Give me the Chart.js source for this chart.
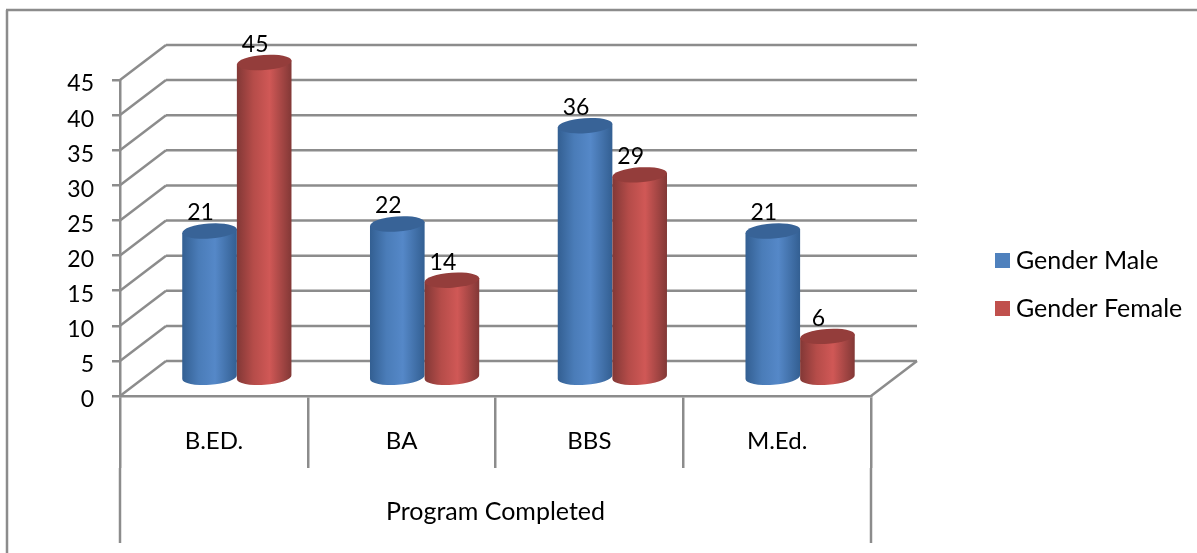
<!DOCTYPE html>
<html lang="en">
<head>
    <meta charset="UTF-8">
    <title>Program Completed</title>
    <script src="https://cdn.jsdelivr.net/npm/chart.js"></script>
    <style>
        body { margin: 0; background: white; }
        #box { width: 1197px; height: 553px; }
    </style>
</head>
<body>
    <div id="box"><canvas id="myChart"></canvas></div>

    <script>
        const categories = ['B.ED.', 'BA', 'BBS', 'M.Ed.'];
        const maleValues = [21, 22, 36, 21];
        const femaleValues = [45, 14, 29, 6];
        const yTicks = [0, 5, 10, 15, 20, 25, 30, 35, 40, 45];
        const seriesNames = ['Gender Male', 'Gender Female'];
        const axisTitle = 'Program Completed';

        const fontName = 'Lato, "Open Sans", sans-serif';
        const numberSize = 23;
        const labelSize = 24;
        const textSize = 25;
        const lineColor = '#8c8c8c';
        const lineWidth = 2.5;
        const depthX = 46;
        const depthY = 35;

        // colours of the two cylinders: edge, middle, light stripe, top
        const shades = [
            { swatch: '#4f81bd', edge: '#335f92', mid: '#4a7cb8', light: '#5588c8', top: '#386397' },
            { swatch: '#c0504d', edge: '#823836', mid: '#b54c49', light: '#d05856', top: '#943d3b' }
        ];

        function line(ctx, x1, y1, x2, y2) {
            ctx.beginPath();
            ctx.moveTo(x1, y1);
            ctx.lineTo(x2, y2);
            ctx.stroke();
        }

        // outer frame, 3D wall and the lower level of the category axis
        const wallPlugin = {
            id: 'wall',
            beforeDatasetsDraw(chart) {
                const ctx = chart.ctx;
                const y = chart.scales.y;
                const x = chart.scales.x;
                ctx.save();
                ctx.strokeStyle = lineColor;
                ctx.lineWidth = lineWidth;
                line(ctx, 7, 10, 7, 553);
                line(ctx, 6, 10, 1197, 10);
                yTicks.forEach(v => {
                    const py = y.getPixelForValue(v);
                    line(ctx, x.left, py, x.left + depthX, py - depthY);
                    line(ctx, x.left + depthX, py - depthY, x.right + depthX, py - depthY);
                });
                const base = y.getPixelForValue(0);
                line(ctx, x.right, base, x.right + depthX, base - depthY);
                line(ctx, x.left, base + 72, x.left, 543);
                line(ctx, x.right, base + 72, x.right, 543);
                ctx.restore();
            }
        };

        function drawCylinder(ctx, bar, shade) {
            const rx = bar.width / 2;
            const ry = 7.5;
            const tilt = -0.07;
            const cx = bar.x + 23;
            const top = bar.y - depthY / 2;
            const bottom = bar.base - depthY / 2;
            const dy = Math.sin(tilt) * rx;

            const grad = ctx.createLinearGradient(cx - rx, 0, cx + rx, 0);
            grad.addColorStop(0, shade.edge);
            grad.addColorStop(0.3, shade.mid);
            grad.addColorStop(0.6, shade.light);
            grad.addColorStop(1, shade.edge);

            ctx.beginPath();
            ctx.moveTo(cx - rx, top - dy);
            ctx.lineTo(cx - rx, bottom - dy);
            ctx.ellipse(cx, bottom, rx, ry, tilt, Math.PI, 0, true);
            ctx.lineTo(cx + rx, top + dy);
            ctx.closePath();
            ctx.fillStyle = grad;
            ctx.fill();

            ctx.beginPath();
            ctx.ellipse(cx, top, rx, ry, tilt, 0, Math.PI * 2);
            ctx.fillStyle = shade.top;
            ctx.fill();
        }

        // cylinders, value labels and the legend
        const cylinderPlugin = {
            id: 'cylinders',
            afterDatasetsDraw(chart) {
                const ctx = chart.ctx;
                ctx.save();
                chart.data.datasets.forEach((ds, i) => {
                    chart.getDatasetMeta(i).data.forEach(bar => drawCylinder(ctx, bar, shades[i]));
                });
                ctx.font = numberSize + 'px ' + fontName;
                ctx.fillStyle = 'black';
                ctx.textAlign = 'center';
                ctx.textBaseline = 'middle';
                chart.data.datasets.forEach((ds, i) => {
                    chart.getDatasetMeta(i).data.forEach((bar, j) => {
                        ctx.fillText(ds.data[j], bar.x + 23 - 9, bar.y - depthY / 2 - 18);
                    });
                });
                ctx.font = textSize + 'px ' + fontName;
                ctx.textAlign = 'left';
                seriesNames.forEach((name, i) => {
                    const ly = 260 + i * 48;
                    ctx.fillStyle = shades[i].swatch;
                    ctx.fillRect(995, ly - 7, 15, 15);
                    ctx.fillStyle = 'black';
                    ctx.fillText(name, 1016, ly + 1);
                });
                ctx.restore();
            }
        };

        new Chart(document.getElementById('myChart'), {
            type: 'bar',
            data: {
                labels: categories,
                datasets: [
                    { label: seriesNames[0], data: maleValues, backgroundColor: 'transparent' },
                    { label: seriesNames[1], data: femaleValues, backgroundColor: 'transparent' }
                ]
            },
            options: {
                responsive: true,
                maintainAspectRatio: false,
                animation: false,
                events: [],
                categoryPercentage: 0.582,
                barPercentage: 1,
                layout: { padding: { top: 80, right: 326 } },
                plugins: { legend: { display: false }, tooltip: { enabled: false } },
                scales: {
                    x: {
                        afterFit: s => { s.height = 157; },
                        border: { color: lineColor, width: lineWidth },
                        grid: { color: lineColor, lineWidth: lineWidth, drawOnChartArea: false, tickLength: 72 },
                        ticks: { color: 'black', font: { family: fontName, size: labelSize }, padding: -41, maxRotation: 0 },
                        title: {
                            display: true,
                            text: axisTitle,
                            color: 'black',
                            font: { family: fontName, size: textSize },
                            padding: { top: 0, bottom: 26 }
                        }
                    },
                    y: {
                        min: 0,
                        max: 45,
                        afterBuildTicks: s => { s.ticks = yTicks.map(v => ({ value: v })); },
                        afterFit: s => { s.width = 120; },
                        border: { color: lineColor, width: lineWidth },
                        grid: { color: lineColor, lineWidth: lineWidth, drawOnChartArea: false, tickLength: 8 },
                        ticks: { color: 'black', font: { family: fontName, size: numberSize }, padding: 18, labelOffset: 4 }
                    }
                }
            },
            plugins: [wallPlugin, cylinderPlugin]
        });
    </script>
</body>
</html>
